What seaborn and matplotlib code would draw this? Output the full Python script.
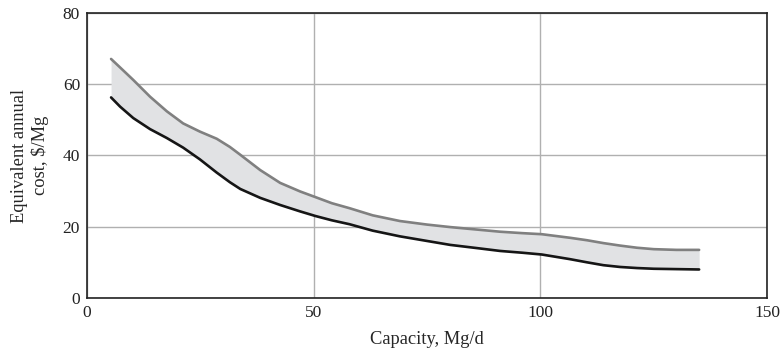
import matplotlib
matplotlib.use("Agg")
import matplotlib.pyplot as plt
import seaborn as sns

# capacity, Mg/d (shared x for both curves)
capacity = [5.3, 7.3, 10.2, 13.9, 17.6, 21.2, 24.9, 28.6, 31.5, 33.8, 38.2, 42.6,
            47.0, 50.4, 54.0, 57.9, 63.0, 69.0, 75.0, 80.1, 86.0, 91.1, 96.0, 100.3,
            106.5, 110.3, 113.9, 117.6, 121.3, 125.0, 130.0, 135.0]
# upper bound of equivalent annual cost, $/Mg
cost_high = [67.1, 64.7, 61.2, 56.5, 52.4, 49.0, 46.7, 44.7, 42.4, 40.2, 35.9, 32.3,
             29.9, 28.3, 26.6, 25.2, 23.2, 21.6, 20.6, 19.9, 19.2, 18.6, 18.2, 17.9,
             16.9, 16.2, 15.4, 14.7, 14.1, 13.7, 13.5, 13.5]
# lower bound
cost_low = [56.3, 53.7, 50.5, 47.4, 44.9, 42.2, 38.9, 35.2, 32.5, 30.6, 28.1, 26.1,
            24.3, 23.0, 21.8, 20.7, 18.9, 17.3, 16.0, 14.9, 14.0, 13.2, 12.7, 12.2,
            10.9, 10.0, 9.2, 8.7, 8.4, 8.2, 8.1, 8.0]

sns.set_style("white")
plt.rcParams['font.family'] = ['Liberation Serif', 'DejaVu Serif']

fig = plt.figure(figsize=(7.82, 3.56), dpi=100)
ax = fig.add_axes([0.1113, 0.163, 0.8697, 0.8005])

ax.fill_between(capacity, cost_low, cost_high, color="#e1e2e4", linewidth=0, zorder=1)
sns.lineplot(x=capacity, y=cost_high, color="#808080", linewidth=1.9, ax=ax, zorder=3)
sns.lineplot(x=capacity, y=cost_low, color="#151515", linewidth=1.9, ax=ax, zorder=3)

ax.set_xlim(0, 150)
ax.set_ylim(0, 80)
ax.set_xticks([0, 50, 100, 150])
ax.set_yticks([0, 20, 40, 60, 80])
ax.grid(True, color="#b0b0b0", linewidth=1)
ax.set_axisbelow(True)
ax.tick_params(length=0, labelsize=12.5, colors="#222222", pad=5)
for s in ax.spines.values():
    s.set_color("#222222")
    s.set_linewidth(1.2)

ax.set_xlabel("Capacity, Mg/d", fontsize=13.3, labelpad=7)
ax.set_ylabel("Equivalent annual\ncost, \\$/Mg", fontsize=13.3, labelpad=10)

fig.savefig("out.png", dpi=100)
